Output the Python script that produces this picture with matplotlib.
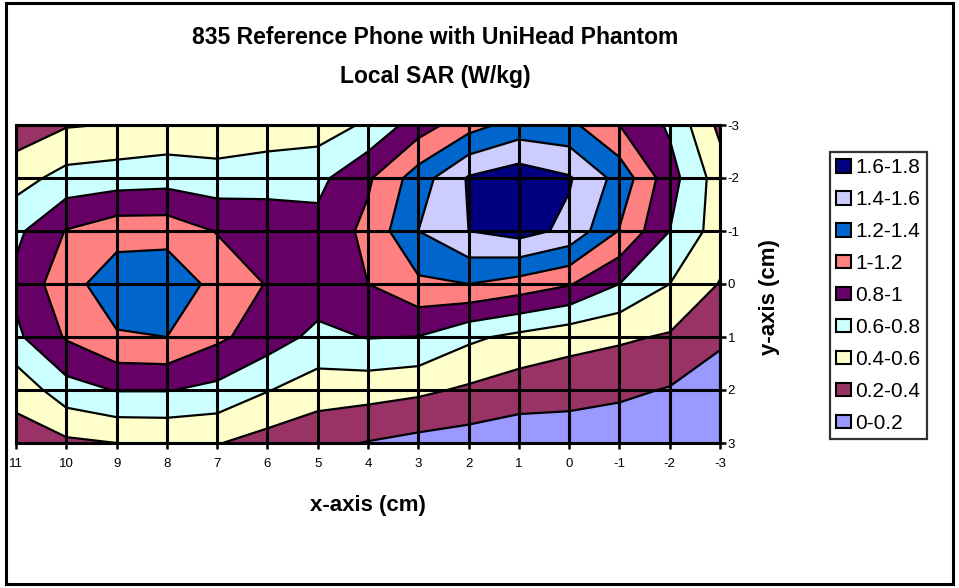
import matplotlib
matplotlib.use("Agg")
import matplotlib.pyplot as plt
from matplotlib.patches import Patch, Rectangle
import numpy as np

plt.rcParams['font.family'] = ['Liberation Sans', 'DejaVu Sans']

# x positions (cm) of the 15 categories, y positions (cm) of the 7 series
x_vals = [11, 10, 9, 8, 7, 6, 5, 4, 3, 2, 1, 0, -1, -2, -3]
y_vals = [-3, -2, -1, 0, 1, 2, 3]

# Local SAR (W/kg), one row per y value
sar_y_m3 = [0.28, 0.385, 0.41, 0.45, 0.46, 0.48, 0.50, 0.63, 0.90, 1.12, 1.28, 1.25, 1.00, 0.77, 0.35]
sar_y_m2 = [0.52, 0.67, 0.70, 0.72, 0.68, 0.72, 0.746, 0.97, 1.30, 1.62, 1.72, 1.62, 1.33, 0.88, 0.50]
sar_y_m1 = [0.755, 1.01, 1.12, 1.12, 0.99, 0.92, 0.86, 1.05, 1.40, 1.60, 1.68, 1.55, 1.19, 0.80, 0.50]
sar_y_0 = [0.85, 1.12, 1.32, 1.35, 1.13, 0.99, 0.92, 1.00, 1.16, 1.20, 1.12, 1.017, 0.80, 0.60, 0.39]
sar_y_1 = [0.76, 1.02, 1.18, 1.20, 1.04, 0.90, 0.746, 0.81, 0.795, 0.64, 0.55, 0.47, 0.43, 0.38, 0.25]
sar_y_2 = [0.46, 0.72, 0.81, 0.81, 0.75, 0.61, 0.50, 0.48, 0.44, 0.37, 0.30, 0.28, 0.24, 0.187, 0.05]
sar_y_3 = [0.32, 0.36, 0.40, 0.41, 0.41, 0.32, 0.25, 0.19, 0.14, 0.11, 0.08, 0.08, 0.07, 0.05, 0.03]

levels = [0, 0.2, 0.4, 0.6, 0.8, 1.0, 1.2, 1.4, 1.6, 1.8]
range_labels = ['0-0.2', '0.2-0.4', '0.4-0.6', '0.6-0.8', '0.8-1', '1-1.2', '1.2-1.4', '1.4-1.6', '1.6-1.8']
band_colors = ['#9999FF', '#993366', '#FFFFCC', '#CCFFFF', '#660066', '#FF8080', '#0066CC', '#CCCCFF', '#000080']

Z = np.array([sar_y_m3, sar_y_m2, sar_y_m1, sar_y_0, sar_y_1, sar_y_2, sar_y_3])
X, Y = np.meshgrid(x_vals, y_vals)

W, H = 959, 588
fig = plt.figure(figsize=(W / 100, H / 100), dpi=100)

# outer chart border
fig.patches.append(Rectangle((6 / W, 1 - 584 / H), (953 - 6) / W, (584 - 3) / H,
                             transform=fig.transFigure, fill=False, lw=2.2, ec='black'))

left, right, top, bottom = 16 / W, 720 / W, 1 - 125 / H, 1 - 443 / H
ax = fig.add_axes([left, bottom, right - left, top - bottom])

ax.contourf(X, Y, Z, levels=levels, colors=band_colors)
ax.contour(X, Y, Z, levels=levels[1:-1], colors='black', linewidths=1.6)

ax.set_xlim(11, -3)
ax.set_ylim(3, -3)
ax.set_xticks(x_vals)
ax.set_yticks(y_vals)
ax.set_xticklabels([str(v) for v in x_vals])
ax.set_yticklabels([str(v) for v in y_vals])
ax.yaxis.tick_right()
ax.yaxis.set_label_position('right')
ax.tick_params(axis='both', direction='out', length=4.5, width=1.8, colors='black',
               labelsize=9.5)
ax.tick_params(axis='x', pad=6)
ax.tick_params(axis='y', pad=1)
ax.grid(True, color='black', linewidth=2.2)
ax.set_axisbelow(False)
for s in ax.spines.values():
    s.set_linewidth(2.2)
    s.set_color('black')

ax.set_xlabel('x-axis (cm)', fontsize=16, fontweight='bold', va='center')
ax.xaxis.set_label_coords((368 - 16) / 704, -(506 - 443) / 318)
ax.set_ylabel('y-axis (cm)', fontsize=16, fontweight='bold', va='center', rotation=90)
ax.yaxis.set_label_coords((770 - 16) / 704, 1 - (297 - 125) / 318)

fig.text(435 / W, 1 - 37 / H, '835 Reference Phone with UniHead Phantom',
         ha='center', va='center', fontsize=16.5, fontweight='bold')
fig.text(435 / W, 1 - 76 / H, 'Local SAR (W/kg)',
         ha='center', va='center', fontsize=16.5, fontweight='bold')

handles = [Patch(facecolor=c, edgecolor='black', linewidth=1.5) for c in band_colors][::-1]
leg = fig.legend(handles, range_labels[::-1], loc='upper left',
                 bbox_to_anchor=(830 / W, 1 - 152 / H), bbox_transform=fig.transFigure,
                 fontsize=15, frameon=True, fancybox=False, shadow=False,
                 handlelength=0.72, handleheight=0.62, handletextpad=0.2,
                 labelspacing=0.62, borderpad=0.3, borderaxespad=0)
leg.get_frame().set_edgecolor('black')
leg.get_frame().set_linewidth(1.6)

fig.savefig('out.png', dpi=100)
